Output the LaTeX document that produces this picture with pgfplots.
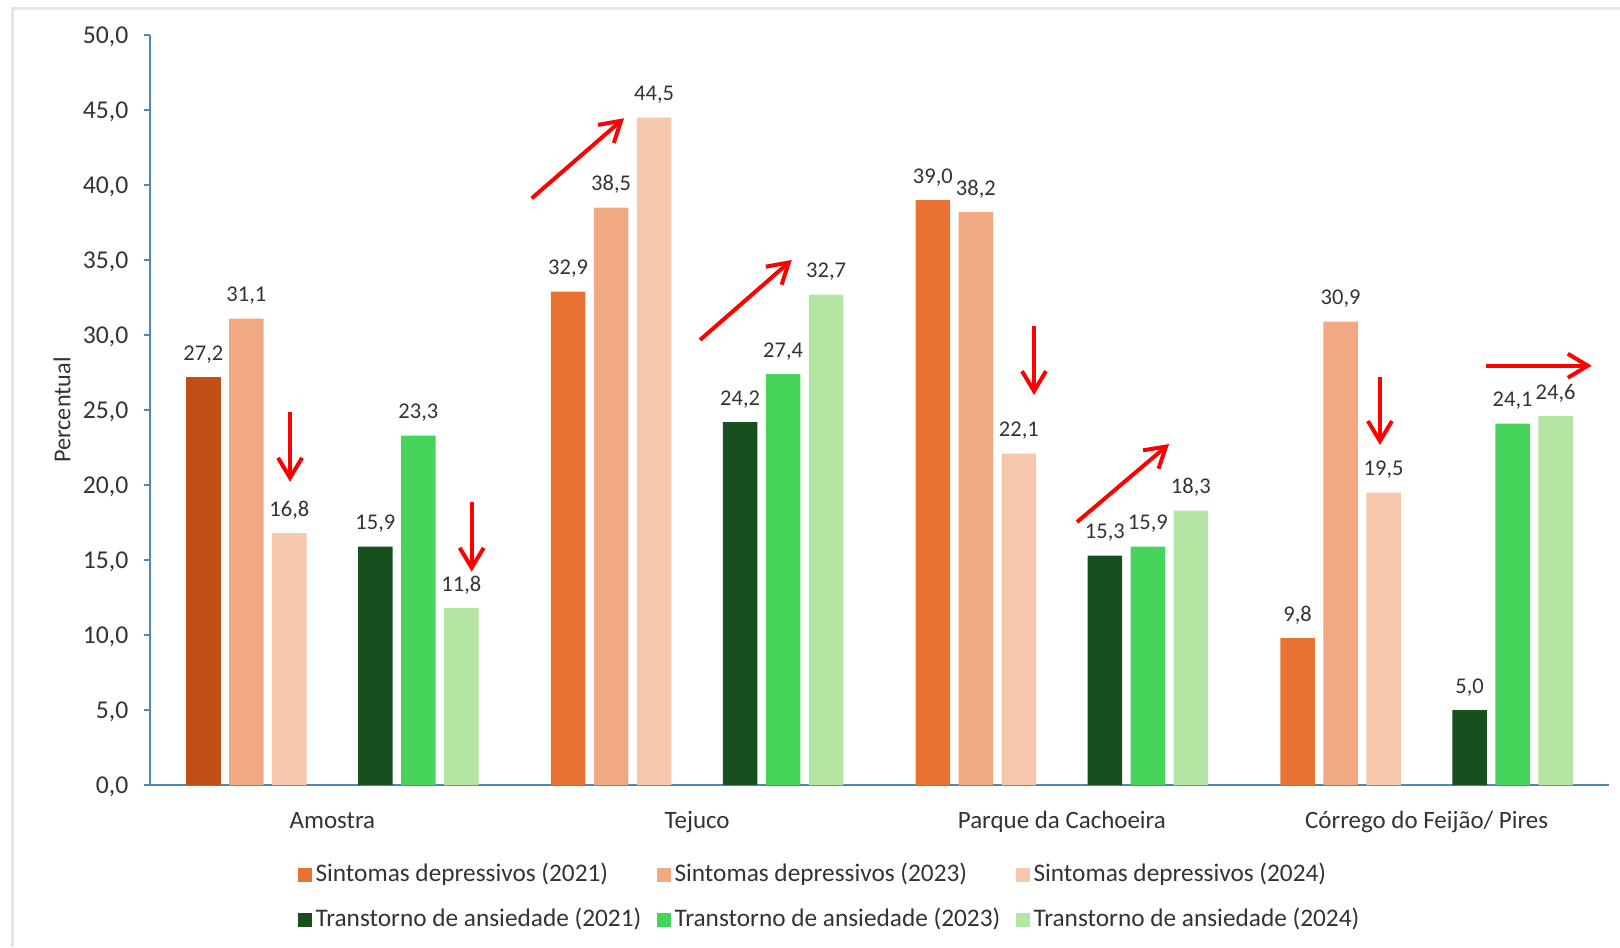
\documentclass[border=0pt]{standalone}
\usepackage{pgfplots}
\pgfplotsset{compat=1.18}
\usepackage{fontspec}
\setmainfont{Carlito}
\usetikzlibrary{arrows.meta}

\definecolor{dep21}{HTML}{E97132}
\definecolor{dep21dk}{HTML}{C04F15}
\definecolor{dep23}{HTML}{F1A983}
\definecolor{dep24}{HTML}{F6C6AD}
\definecolor{ans21}{HTML}{17501E}
\definecolor{ans23}{HTML}{47D45A}
\definecolor{ans24}{HTML}{B4E5A2}
\definecolor{eixo}{RGB}{74,138,181}
\definecolor{txt}{HTML}{333333}

\newcommand{\leg}[1]{\makebox[34.5mm][l]{\hspace*{0.4mm}#1}}

\begin{document}
\begin{tikzpicture}
\path[use as bounding box] (0mm,0mm) rectangle (162mm,-94.7mm);
\draw[line width=0.3mm, color=black!10] (1.2mm,-94.7mm) -- (1.2mm,-0.9mm) -- (162mm,-0.9mm);

\begin{axis}[
  at={(15mm,-78.5mm)}, anchor=south west,
  scale only axis, width=145.9mm, height=75mm,
  xmin=-0.5, xmax=3.5, ymin=0, ymax=50,
  ybar, bar width=3.45mm,
  axis lines=left, axis line style={-, draw=eixo, line width=0.2mm},
  xtick={0,1,2,3},
  xticklabels={Amostra, Tejuco, Parque da Cachoeira, Córrego do Feijão/ Pires},
  xtick style={draw=none},
  ytick={0,5,...,50},
  ytick style={draw=eixo, line width=0.2mm},
  tick align=outside, major tick length=0.6mm,
  /pgf/number format/assume math mode=true,
  yticklabel style={/pgf/number format/fixed, /pgf/number format/fixed zerofill,
    /pgf/number format/precision=1, /pgf/number format/use comma,
    font=\fontsize{7.3}{8}\selectfont, text=txt, inner sep=0pt, anchor=east, text depth=0pt, xshift=-1.5mm},
  xticklabel style={font=\fontsize{7.1}{8}\selectfont, text=txt, inner sep=0pt, anchor=north, text height=1.8mm, text depth=0.5mm, yshift=-1.9mm},
  ylabel={Percentual},
  every axis y label/.style={at={(axis description cs:-0.0603,0.5)}, anchor=center, rotate=90, font=\fontsize{6.9}{8}\selectfont, text=txt},
  nodes near coords={\pgfmathprintnumber[fixed, fixed zerofill, precision=1, use comma, assume math mode=true]{\pgfplotspointmeta}},
  every node near coord/.append style={font=\fontsize{6.4}{7}\selectfont, text=txt, inner sep=0pt, anchor=south, text depth=0pt, yshift=1.6mm},
  legend columns=3,
  legend style={draw=none, fill=none, at={(axis description cs:0.1011,-0.104)}, anchor=north west,
    inner sep=0pt, outer sep=0pt, row sep=2.2mm, column sep=0pt,
    font=\fontsize{7.2}{8}\selectfont, text=txt,
    nodes={inner sep=0pt, text height=1.8mm, text depth=0.5mm}},
  legend image code/.code={\fill[#1] (0mm,-0.7mm) rectangle (1.4mm,0.7mm);},
]

% sintomas depressivos
\addplot[fill=dep21, draw=none, bar shift=-12.9mm] coordinates {(1,32.9) (2,39.0) (3,9.8)};
\addlegendentry{\leg{Sintomas depressivos (2021)}}
\addplot[fill=dep21dk, draw=none, bar shift=-12.9mm, forget plot] coordinates {(0,27.2)};
\addplot[fill=dep23, draw=none, bar shift=-8.6mm] coordinates {(0,31.1) (1,38.5) (2,38.2) (3,30.9)};
\addlegendentry{\leg{Sintomas depressivos (2023)}}
\addplot[fill=dep24, draw=none, bar shift=-4.3mm] coordinates {(0,16.8) (1,44.5) (2,22.1) (3,19.5)};
\addlegendentry{\leg{Sintomas depressivos (2024)}}

% transtorno de ansiedade
\addplot[fill=ans21, draw=none, bar shift=4.3mm] coordinates {(0,15.9) (1,24.2) (2,15.3) (3,5.0)};
\addlegendentry{\leg{Transtorno de ansiedade (2021)}}
\addplot[fill=ans23, draw=none, bar shift=8.6mm] coordinates {(0,23.3) (1,27.4) (2,15.9) (3,24.1)};
\addlegendentry{\leg{Transtorno de ansiedade (2023)}}
\addplot[fill=ans24, draw=none, bar shift=12.9mm] coordinates {(0,11.8) (1,32.7) (2,18.3) (3,24.6)};
\addlegendentry{\leg{Transtorno de ansiedade (2024)}}

% setas
\begin{scope}[red, line width=0.4mm, -{Straight Barb[length=2mm,width=2.4mm]}]
\draw (axis cs:-0.116,24.89) -- (axis cs:-0.116,20.22);
\draw (axis cs:0.382,18.89) -- (axis cs:0.382,14.22);
\draw (axis cs:0.5465,39.11) -- (axis cs:0.7995,44.45);
\draw (axis cs:1.0079,29.67) -- (axis cs:1.2593,35.0);
\draw (axis cs:1.9236,30.6) -- (axis cs:1.9236,26.0);
\draw (axis cs:2.0415,17.53) -- (axis cs:2.2937,22.73);
\draw (axis cs:2.872,27.22) -- (axis cs:2.872,22.67);
\draw (axis cs:3.1628,27.95) -- (axis cs:3.4525,27.95);
\end{scope}

\end{axis}
\end{tikzpicture}
\end{document}
